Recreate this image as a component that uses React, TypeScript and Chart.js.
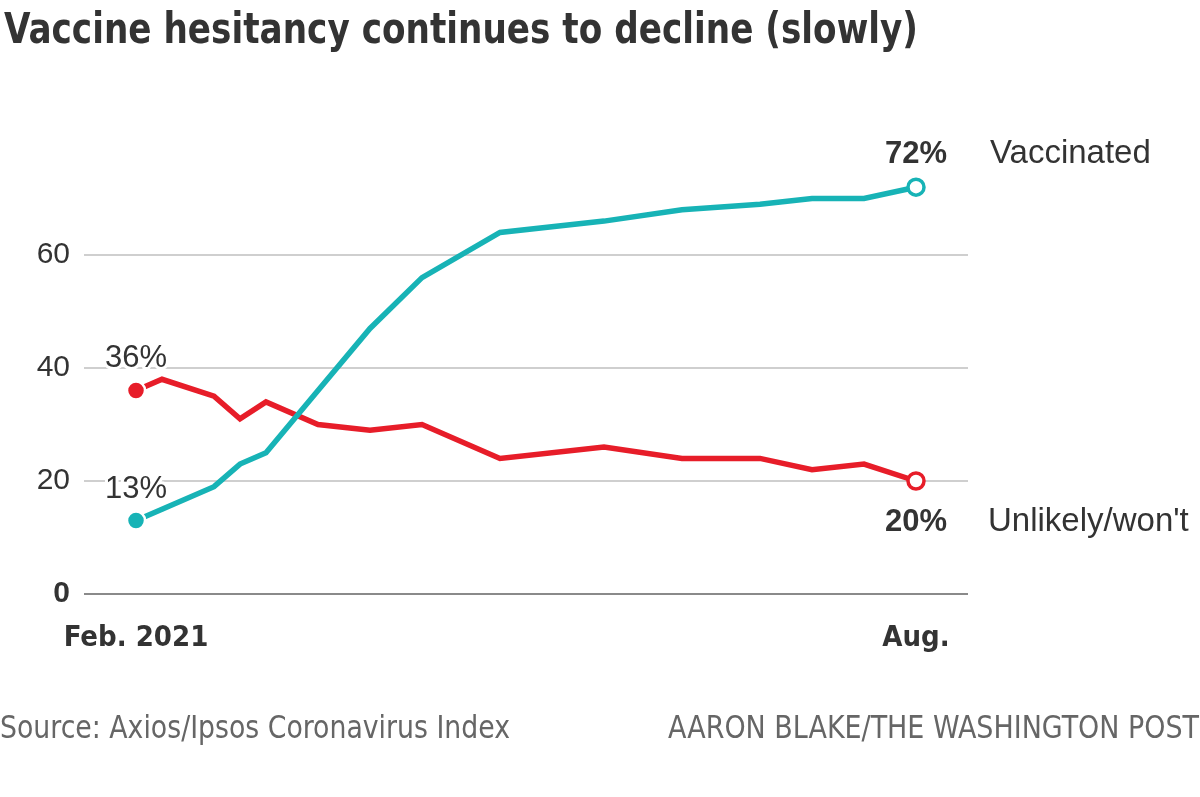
import React, { useEffect, useRef } from "react";
import { Chart, registerables } from "chart.js";
Chart.register(...registerables);

// ---- data ----
const weeks = [0, 1, 3, 4, 5, 7, 9, 11, 14, 18, 21, 24, 26, 28, 30];
const vaccinated = [13, 15, 19, 23, 25, 36, 47, 56, 64, 66, 68, 69, 70, 70, 72];
const unlikely = [36, 38, 35, 31, 34, 30, 29, 30, 24, 26, 24, 24, 22, 23, 20];
const yTicks = [0, 20, 40, 60];
const xTickWeeks = [0, 30];
const xTickLabels = ["Feb. 2021", "Aug."];
const seriesNames = ["Vaccinated", "Unlikely/won't"];
const titleText = "Vaccine hesitancy continues to decline (slowly)";
const sourceText = "Source: Axios/Ipsos Coronavirus Index";
const creditText = "AARON BLAKE/THE WASHINGTON POST";

const TEAL = "#17b3b6";
const RED = "#e71d29";
const TEXT = "#333333";
const NARROW = '"Liberation Sans Narrow", "DejaVu Sans Condensed", sans-serif';
const SANS = '"Liberation Sans", Arial, sans-serif';

const pct = (v: number) => `${v}%`;

// draw text squeezed horizontally to a given width (mimics a condensed face)
function fitText(
  ctx: CanvasRenderingContext2D,
  text: string,
  x: number,
  y: number,
  width: number,
  align: "left" | "right"
) {
  const w = ctx.measureText(text).width;
  const k = Math.min(1, width / w);
  ctx.save();
  ctx.textAlign = "left";
  const left = align === "left" ? x : x - w * k;
  ctx.translate(left, y);
  ctx.scale(k, 1);
  ctx.fillText(text, 0, 0);
  ctx.restore();
}

const annotPlugin = {
  id: "annot",
  afterDraw(chart: any) {
    const ctx = chart.ctx as CanvasRenderingContext2D;
    const mV = chart.getDatasetMeta(0).data;
    const mU = chart.getDatasetMeta(1).data;
    const last = weeks.length - 1;
    ctx.save();
    ctx.textBaseline = "alphabetic";
    // title
    ctx.fillStyle = TEXT;
    ctx.font = `bold 42px ${NARROW}`;
    fitText(ctx, titleText, 4, 43, 914, "left");
    // footer
    ctx.fillStyle = "#666";
    ctx.font = `32px ${NARROW}`;
    fitText(ctx, sourceText, 0, 738, 510, "left");
    fitText(ctx, creditText, 1199, 738, 531, "right");

    const halo = (t: string, x: number, y: number) => {
      ctx.lineWidth = 6;
      ctx.strokeStyle = "#fff";
      ctx.lineJoin = "round";
      ctx.strokeText(t, x, y);
      ctx.fillText(t, x, y);
    };
    ctx.fillStyle = TEXT;
    ctx.textAlign = "center";
    ctx.font = `31px ${SANS}`;
    halo(pct(unlikely[0]), mU[0].x, mU[0].y - 24);
    halo(pct(vaccinated[0]), mV[0].x, mV[0].y - 23);
    ctx.font = `bold 31px ${SANS}`;
    halo(pct(vaccinated[last]), mV[last].x, mV[last].y - 24);
    halo(pct(unlikely[last]), mU[last].x, mU[last].y + 50);
    ctx.textAlign = "left";
    ctx.font = `33px ${SANS}`;
    ctx.fillText(seriesNames[0], 990, mV[last].y - 24);
    ctx.fillText(seriesNames[1], 988, mU[last].y + 50);
    ctx.restore();
  },
};

function pointStyle(color: string) {
  const n = weeks.length;
  return {
    pointRadius: weeks.map((_, i) => (i === 0 ? 9 : i === n - 1 ? 8 : 0)),
    pointBackgroundColor: weeks.map((_, i) => (i === n - 1 ? "#fff" : color)),
    pointBorderColor: weeks.map((_, i) => (i === 0 ? "#fff" : color)),
    pointBorderWidth: weeks.map((_, i) => (i === 0 ? 2.5 : 3.5)),
  };
}

export default function App() {
  const ref = useRef<HTMLCanvasElement>(null);
  useEffect(() => {
    document.body.style.margin = "0";
    const chart = new Chart(ref.current!, {
      type: "line",
      data: {
        datasets: [
          {
            label: seriesNames[0],
            data: weeks.map((w, i) => ({ x: w, y: vaccinated[i] })),
            borderColor: TEAL,
            borderWidth: 5.5,
            tension: 0,
            clip: false as any,
            ...pointStyle(TEAL),
          },
          {
            label: seriesNames[1],
            data: weeks.map((w, i) => ({ x: w, y: unlikely[i] })),
            borderColor: RED,
            borderWidth: 5.5,
            tension: 0,
            clip: false as any,
            ...pointStyle(RED),
          },
        ],
      },
      options: {
        animation: false,
        responsive: false,
        devicePixelRatio: 1,
        layout: { padding: { top: 142, right: 232, left: 0, bottom: 0 } },
        plugins: { legend: { display: false }, tooltip: { enabled: false }, title: { display: false } },
        scales: {
          x: {
            type: "linear",
            min: -2,
            max: 32,
            grid: { display: false },
            border: { display: false },
            afterBuildTicks: (s: any) => {
              s.ticks = xTickWeeks.map((v) => ({ value: v }));
            },
            afterFit: (s: any) => {
              s.height = 203;
            },
            ticks: {
              autoSkip: false,
              maxRotation: 0,
              padding: 19,
              color: TEXT,
              font: { family: NARROW, size: 29, weight: "bold" },
              callback: (v: any) => xTickLabels[xTickWeeks.indexOf(Number(v))] ?? "",
            },
          },
          y: {
            min: 0,
            max: 80,
            border: { display: false },
            grid: {
              drawTicks: false,
              lineWidth: 2,
              color: (c: any) => (c.tick && c.tick.value === 0 ? "#8a8a8a" : "#cfcfcf"),
            },
            afterBuildTicks: (s: any) => {
              s.ticks = yTicks.map((v) => ({ value: v }));
            },
            afterFit: (s: any) => {
              s.width = 84;
            },
            ticks: {
              padding: 14,
              color: TEXT,
              font: (c: any) =>
                c.tick && c.tick.value === 0
                  ? { family: SANS, size: 30, weight: "bold" }
                  : { family: SANS, size: 30, weight: "normal" },
            },
          },
        },
      },
      plugins: [annotPlugin],
    });
    return () => chart.destroy();
  }, []);
  return (
    <div style={{ position: "absolute", left: 0, top: 0, width: 1200, height: 797, background: "#fff" }}>
      <canvas ref={ref} width={1200} height={797} style={{ display: "block", width: 1200, height: 797 }} />
    </div>
  );
}
